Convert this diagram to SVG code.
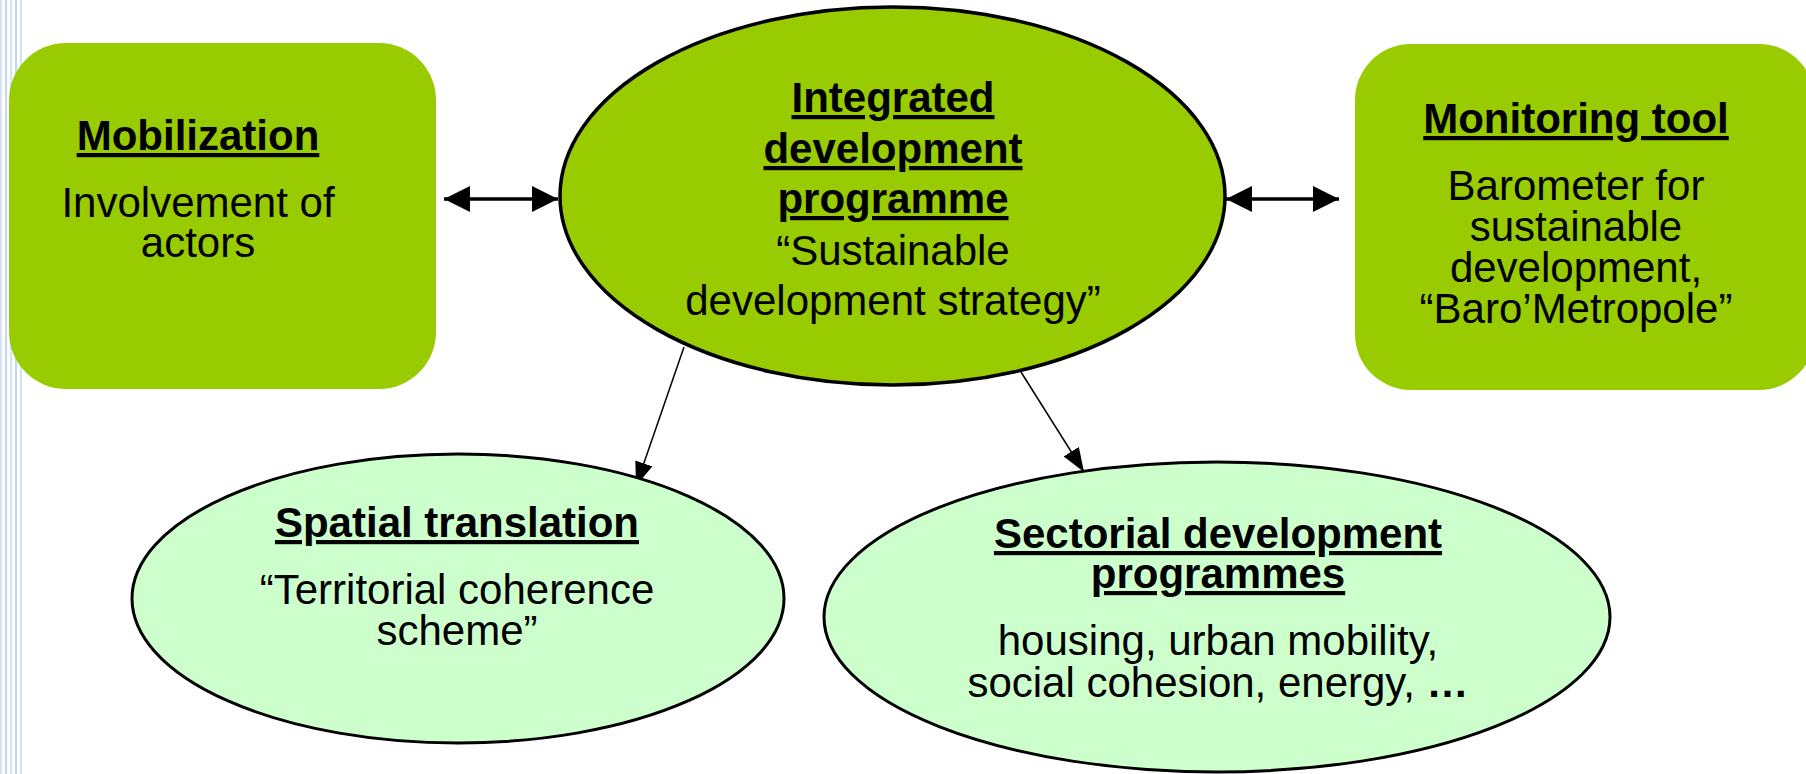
<svg xmlns="http://www.w3.org/2000/svg" width="1806" height="774" viewBox="0 0 1806 774">
<style>
  .t { font-family: "Liberation Sans", Arial, sans-serif; font-size: 42px; fill: #000; text-anchor: middle; }
  .b { font-weight: bold; text-decoration: underline; }
  .box { fill: #99CC00; }
  .main { fill: #99CC00; stroke: #000; stroke-width: 3.5; }
  .sub { fill: #CCFFCC; stroke: #000; stroke-width: 3; }
  .stripe { fill: #D6E3F2; }
  .stripe2 { fill: #C2D6EE; }
  .dbl { stroke: #000; stroke-width: 3.5; fill: none; }
  .thin { stroke: #000; stroke-width: 1.5; fill: none; }
</style>
<defs>
  <marker id="big" markerUnits="userSpaceOnUse" markerWidth="26" markerHeight="26" refX="26" refY="13" orient="auto-start-reverse">
    <path d="M0,0 L26,13 L0,26 z" fill="#000"/>
  </marker>
  <marker id="small" markerUnits="userSpaceOnUse" markerWidth="24" markerHeight="18" refX="24" refY="9" orient="auto">
    <path d="M0,0 L24,9 L0,18 z" fill="#000"/>
  </marker>
</defs>
<rect width="1806" height="774" fill="#FFFFFF"/>
<g id="stripes">
  <rect class="stripe" x="0" y="0" width="2" height="774"/>
  <rect class="stripe2" x="5" y="0" width="2" height="774"/>
  <rect class="stripe" x="10" y="0" width="2" height="774"/>
  <rect class="stripe2" x="15" y="0" width="2" height="774"/>
  <rect class="stripe" x="20" y="0" width="2" height="774"/>
</g>
<g id="connectors">
  <line class="dbl" x1="444" y1="199" x2="558" y2="199" marker-start="url(#big)" marker-end="url(#big)"/>
  <line class="dbl" x1="1226" y1="199" x2="1339" y2="199" marker-start="url(#big)" marker-end="url(#big)"/>
  <line class="thin" x1="684" y1="347" x2="636" y2="486" marker-end="url(#small)"/>
  <line class="thin" x1="1021" y1="372" x2="1084" y2="472" marker-end="url(#small)"/>
</g>
<g id="mobilization">
  <rect class="box" x="9" y="43" width="427" height="346" rx="57" ry="57"/>
  <text class="t b" x="198" y="150">Mobilization</text>
  <text class="t" x="198" y="217">Involvement of</text>
  <text class="t" x="198" y="257">actors</text>
</g>
<g id="integrated">
  <ellipse class="main" cx="892.5" cy="196" rx="332.5" ry="189"/>
  <text class="t b" x="893" y="112">Integrated</text>
  <text class="t b" x="893" y="163">development</text>
  <text class="t b" x="893" y="213">programme</text>
  <text class="t" x="893" y="265">“Sustainable</text>
  <text class="t" x="893" y="315">development strategy”</text>
</g>
<g id="monitoring">
  <rect class="box" x="1355" y="44" width="460" height="346" rx="56" ry="56"/>
  <text class="t b" x="1576" y="133">Monitoring tool</text>
  <text class="t" x="1576" y="200">Barometer for</text>
  <text class="t" x="1576" y="241">sustainable</text>
  <text class="t" x="1576" y="282">development,</text>
  <text class="t" x="1576" y="323">“Baro’Metropole”</text>
</g>
<g id="spatial">
  <ellipse class="sub" cx="458" cy="598.5" rx="326" ry="144.5"/>
  <text class="t b" x="457" y="537">Spatial translation</text>
  <text class="t" x="457" y="604">“Territorial coherence</text>
  <text class="t" x="457" y="645">scheme”</text>
</g>
<g id="sectorial">
  <ellipse class="sub" cx="1217" cy="617" rx="393" ry="155"/>
  <text class="t b" x="1218" y="548">Sectorial development</text>
  <text class="t b" x="1218" y="588">programmes</text>
  <text class="t" x="1218" y="655">housing, urban mobility,</text>
  <text class="t" x="1218" y="697">social cohesion, energy, <tspan font-weight="bold">…</tspan></text>
</g>
</svg>
